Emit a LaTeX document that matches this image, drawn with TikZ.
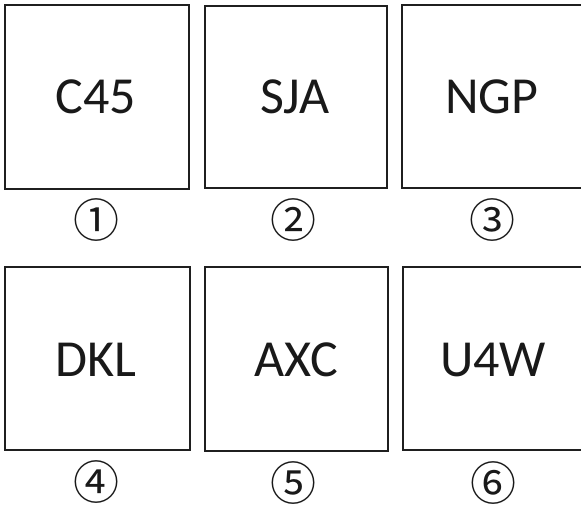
\documentclass[tikz,border=0pt]{standalone}
\usepackage{fontspec}
\setmainfont{Carlito}
\newfontfamily\circfont{Noto Sans CJK SC}
\begin{document}
\begin{tikzpicture}[x=1pt,y=-1pt,
  panel/.style={draw=black!88,line width=2.2pt,fill=white},
  lbl/.style={font=\fontsize{52}{52}\selectfont,inner sep=0pt,text=black!90},
  num/.style={font=\circfont\fontsize{46}{46}\selectfont,inner sep=0pt,text=black!90}]
\useasboundingbox (0,0) rectangle (581,509);
\clip (0,0) rectangle (581,509);
% row 1
\draw[panel] (5,5) rectangle (189,189);
\draw[panel] (205,6) rectangle (387,188);
\draw[panel] (402,5) rectangle (600,188);
% row 2
\draw[panel] (5,267) rectangle (190,450);
\draw[panel] (205,267) rectangle (388,451);
\draw[panel] (403,267) rectangle (600,450);
\node[lbl] (t1) at (96,97) {C45};
\node[lbl] (t2) at (295,97) {SJA};
\node[lbl] (t3) at (492,97) {NGP};
\node[lbl] (t4) at (96,360) {DKL};
\node[lbl] (t5) at (296,360) {AXC};
\node[lbl] (t6) at (493,360) {U4W};
\node[num] (n1) at (96,220) {①};
\node[num] (n2) at (293,220) {②};
\node[num] (n3) at (492,220) {③};
\node[num] (n4) at (96,482) {④};
\node[num] (n5) at (293,483) {⑤};
\node[num] (n6) at (493,483) {⑥};
\end{tikzpicture}
\end{document}
